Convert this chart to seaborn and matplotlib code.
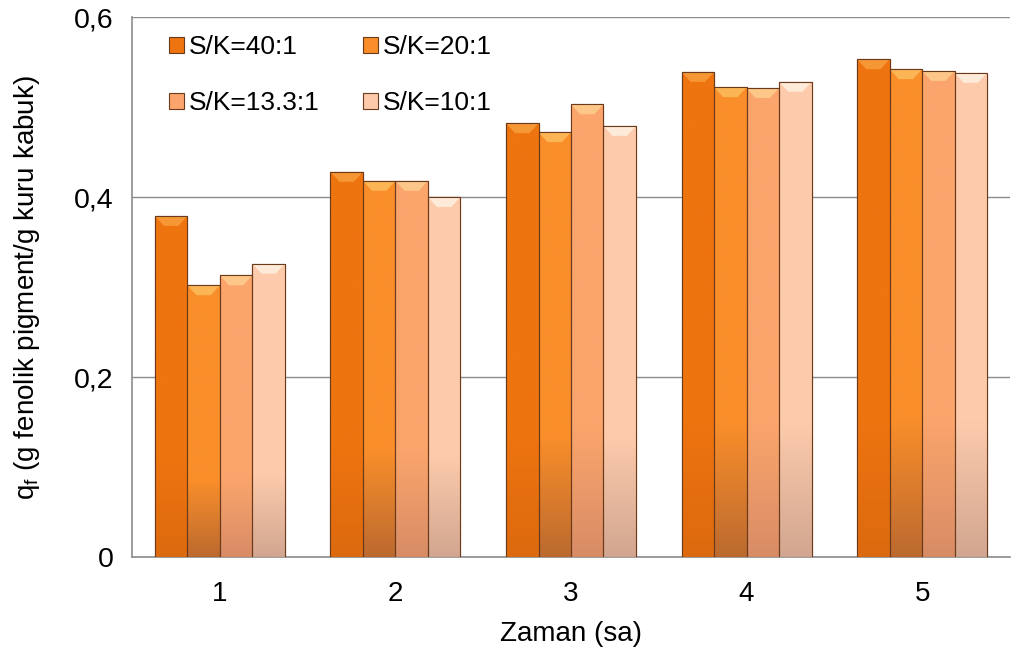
import numpy as np
import pandas as pd
import matplotlib
matplotlib.use("Agg")
import matplotlib.pyplot as plt
import matplotlib.colors as mcolors
import seaborn as sns

# ---------- Data ---------- #
times = ["1", "2", "3", "4", "5"]
ratios = ["S/K=40:1", "S/K=20:1", "S/K=13.3:1", "S/K=10:1"]
q_40 = [0.379, 0.428, 0.482, 0.539, 0.553]
q_20 = [0.302, 0.418, 0.472, 0.522, 0.542]
q_13 = [0.313, 0.418, 0.503, 0.521, 0.540]
q_10 = [0.326, 0.400, 0.479, 0.528, 0.538]
yticks = [0, 0.2, 0.4, 0.6]
ytick_labels = ["0", "0,2", "0,4", "0,6"]

top_colors = ["#EE7410", "#F98E2A", "#FBA56C", "#FDCBAC"]
bottom_colors = ["#DC6A0E", "#BC6A30", "#D88C66", "#D2A690"]
bevel_colors = ["#F9A040", "#FDC060", "#FDD090", "#FFF3E4"]
edge_color = "#6B3A1A"

df = pd.DataFrame({
    "Zaman": times * 4,
    "q": q_40 + q_20 + q_13 + q_10,
    "Oran": [r for r in ratios for _ in times],
})

# ---------- Plot ---------- #
sns.set_theme(style="white")
plt.rcParams["font.family"] = ["Liberation Sans", "DejaVu Sans"]
plt.rcParams["mathtext.default"] = "regular"
plt.rcParams["text.color"] = "black"
plt.rcParams["axes.labelcolor"] = "black"
plt.rcParams["xtick.color"] = "black"
plt.rcParams["ytick.color"] = "black"

fig = plt.figure(figsize=(10.16, 6.54), dpi=100)
ax = fig.add_axes([0.130, 0.148, 0.864, 0.826])

sns.barplot(data=df, x="Zaman", y="q", hue="Oran", hue_order=ratios,
            palette=top_colors, width=0.74, gap=0, ax=ax,
            edgecolor=edge_color, linewidth=0.8, errorbar=None, zorder=3)

# gradient fill, clipped to each bar
for cont, c_top, c_bot, c_bev in zip(ax.containers, top_colors, bottom_colors, bevel_colors):
    top = np.array(mcolors.to_rgb(c_top))
    bot = np.array(mcolors.to_rgb(c_bot))
    t = np.linspace(0, 1, 200)
    w = np.clip((t - 0.72) / 0.28, 0, 1)[:, None]
    grad = (top * (1 - w) + bot * w)[:, None, :]
    for bar in cont:
        x0, y0 = bar.get_x(), bar.get_y()
        bw, bh = bar.get_width(), bar.get_height()
        im = ax.imshow(grad, extent=[x0, x0 + bw, y0, y0 + bh], aspect="auto",
                       zorder=3.5, origin="upper")
        im.set_clip_path(bar)
        # bevel highlight at the top
        ax.add_patch(plt.Polygon(
            [[x0, y0 + bh], [x0 + bw, y0 + bh], [x0 + bw * 0.72, y0 + bh - 0.011],
             [x0 + bw * 0.28, y0 + bh - 0.011]],
            closed=True, facecolor=c_bev, alpha=0.8, edgecolor="none", zorder=3.6))
        ax.add_patch(plt.Rectangle((x0, y0), bw, bh, fill=False,
                                   edgecolor=edge_color, linewidth=0.8, zorder=3.7))
ax.set_xlim(-0.5, 4.5)
ax.set_ylim(0, 0.6)

# axes styling
ax.set_yticks(yticks)
ax.set_yticklabels(ytick_labels)
ax.yaxis.grid(True, color="#8C8C8C", linewidth=1)
ax.set_axisbelow(True)
for s in ["top", "right"]:
    ax.spines[s].set_visible(False)
for s in ["left", "bottom"]:
    ax.spines[s].set_color("#8C8C8C")
    ax.spines[s].set_linewidth(1.2)

ax.set_xticks(range(len(times)))
ax.set_xticklabels(times)
ax.set_xticks(np.arange(-0.5, len(times)), minor=True)
ax.tick_params(axis="x", which="major", length=0, pad=17, labelsize=20)
ax.tick_params(axis="x", which="minor", length=7, width=1.2, color="#8C8C8C", direction="out")
ax.tick_params(axis="y", length=7, width=1.2, color="#8C8C8C", direction="inout",
               labelsize=20.5, pad=10)

ax.set_xlabel("Zaman (sa)", fontsize=20, labelpad=10)
ax.set_ylabel("q$_f$ (g fenolik pigment/g kuru kabuk)", fontsize=20, labelpad=23)

handles, labels = ax.get_legend_handles_labels()
order = [0, 2, 1, 3]
leg = ax.legend([handles[i] for i in order], [labels[i] for i in order], ncol=2,
                loc="upper left", bbox_to_anchor=(0.015, 1.01),
                frameon=False, fontsize=19, handlelength=0.55, handleheight=0.55,
                handletextpad=0.2, labelspacing=1.2, columnspacing=1.65)
for h, i in zip(leg.legend_handles, order):
    h.set_facecolor(top_colors[i])
    h.set_edgecolor(edge_color)

fig.savefig("out.png", dpi=100)
